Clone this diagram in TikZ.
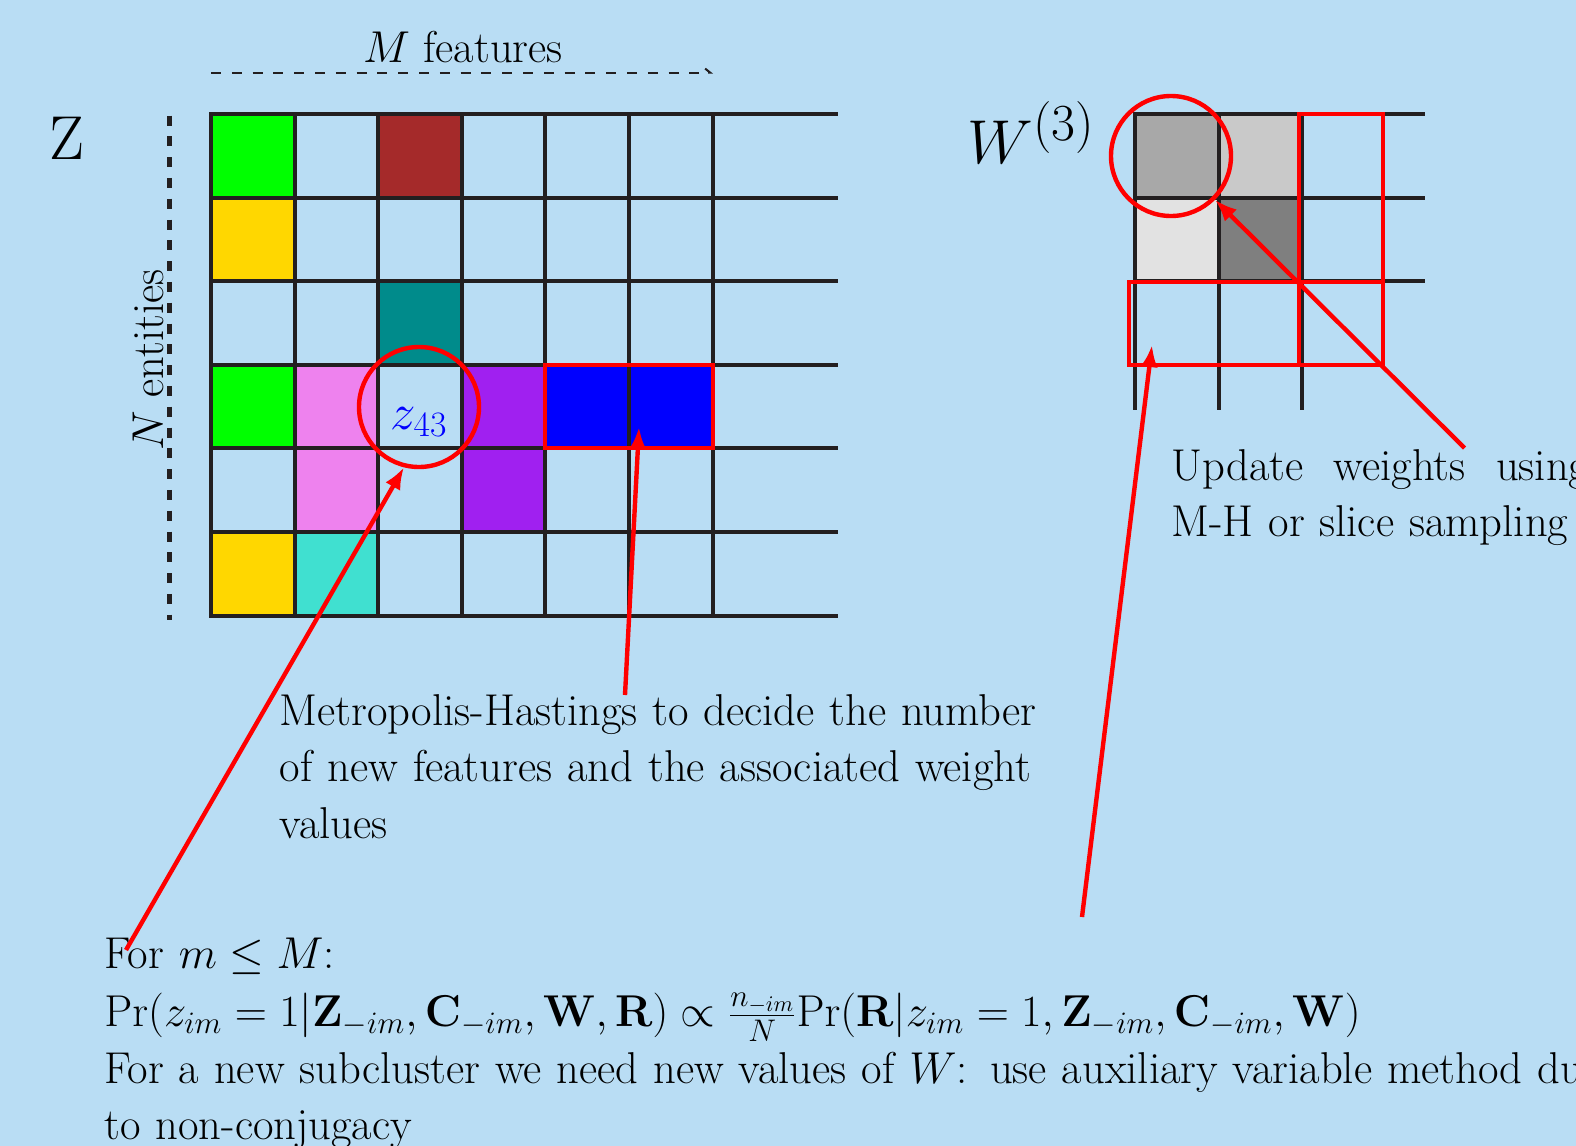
\documentclass[tikz,border=0pt]{standalone}
\usepackage{fix-cm}
\usepackage{amsmath}
\usepackage{xcolor}
\definecolor{slideBlue}{HTML}{B9DDF4}
\definecolor{gridInk}{HTML}{231F20}
\definecolor{markRed}{HTML}{FF0000}
\definecolor{featGreen}{HTML}{00FF00}
\definecolor{featGold}{HTML}{FFD700}
\definecolor{featBrown}{HTML}{A52A2A}
\definecolor{featTeal}{HTML}{008B8B}
\definecolor{featViolet}{HTML}{EE82EE}
\definecolor{featPurple}{HTML}{A020F0}
\definecolor{featTurquoise}{HTML}{40E0D0}
\definecolor{featBlue}{HTML}{0000FF}
\definecolor{weightDark}{HTML}{7F7F7F}
\definecolor{weightMid}{HTML}{A8A8A8}
\definecolor{weightLight}{HTML}{C9C9C9}
\definecolor{weightPale}{HTML}{E2E2E2}
\usepackage{tikz}
\usetikzlibrary{
    arrows.meta,
    positioning,
    calc
}
\tikzset{
    % Base style for all slide text
    slide text/.style={
        font=\fontsize{22.3}{28.25}\selectfont,
        align=left,
        inner sep=0pt,
        text=black,
    },
    % Matrix names Z and W
    big label/.style={
        font=\fontsize{31}{37}\selectfont,
        inner sep=0pt,
    },
    % Black matrix grid
    grid line/.style={
        draw=gridInk,
        line width=2pt,
    },
    % Dashed guides beside the matrix
    dashed guide/.style={
        draw=gridInk,
        line width=1pt,
        dash pattern=on 5pt off 5.4pt,
    },
    % Red highlight boxes
    red box/.style={
        draw=markRed,
        line width=2pt,
    },
    % Red ring round one entry
    red ring/.style={
        circle,
        draw=markRed,
        line width=2.2pt,
        minimum size=60pt,
        inner sep=0pt,
    },
    % Red pointer arrow
    arrow/.style={
        -{Latex[length=11pt, width=8.5pt]},
        draw=markRed,
        line width=2.2pt,
    },
}

\begin{document}
\begin{tikzpicture}[x=0.5pt, y=-0.5pt]
    \fill[slideBlue] (0,0) rectangle (1576,1146);
    \useasboundingbox (0,0) rectangle (1576,1146);

    % Z matrix
    \foreach \c/\r/\col in {1/1/featGreen, 3/1/featBrown, 1/2/featGold, 3/3/featTeal,
        1/4/featGreen, 2/4/featViolet, 4/4/featPurple, 5/4/featBlue, 6/4/featBlue,
        2/5/featViolet, 4/5/featPurple, 1/6/featGold, 2/6/featTurquoise}
        \fill[\col] ({211+(\c-1)*83.6},{114+(\r-1)*83.6}) rectangle ++(83.6,83.6);
    \foreach \k in {0,...,6} {
        \draw[grid line] ({211+\k*83.6},112) -- ({211+\k*83.6},{116+6*83.6});
        \draw[grid line] (209,{114+\k*83.6}) -- (838,{114+\k*83.6});
    }
    \draw[red box] (545.4,364.8) rectangle (712.6,448.4);
    \node (zring) [red ring] at (419,407) {};
    \node (zentry) [slide text, font=\fontsize{25.5}{30}\selectfont, text=featBlue, anchor=base] at (419,429) {$z_{43}$};

    \node (zname) [big label, anchor=base] at (67,159) {Z};
    \coordinate (featStart) at (211,72.6);
    \coordinate (featEnd) at (713,72.6);
    \draw[dashed guide, -{Straight Barb[left, length=2.5pt, width=4pt]}] (featStart) -- (featEnd);
    \node (features) [slide text, anchor=base] at (463,62) {$M$ features};
    \coordinate (entTop) at (169,115.5);
    \coordinate (entBottom) at (169,620);
    \draw[dashed guide, line width=2.5pt] (entTop) -- (entBottom);
    \node (entities) [slide text, rotate=90, anchor=base] at (163,360) {$N$ entities};

    % W matrix
    \fill[weightMid] (1135,114) rectangle (1218.5,197.5);
    \fill[weightLight] (1218.5,114) rectangle (1302,197.5);
    \fill[weightPale] (1135,197.5) rectangle (1218.5,281);
    \fill[weightDark] (1218.5,197.5) rectangle (1302,281);
    \foreach \k in {0,1,2} {
        \draw[grid line] ({1135+\k*83.5},112) -- ({1135+\k*83.5},410);
        \draw[grid line] (1133,{114+\k*83.5}) -- (1425,{114+\k*83.5});
    }
    \draw[red box] (1299,114) rectangle (1383,365);
    \draw[red box] (1129,282) rectangle (1383,365);
    \node (wring) [red ring] at (1171,156) {};
    \node (wname) [big label, anchor=base west] at (967,163)
        {$W^{\mbox{\fontsize{26}{26}\selectfont(3)}}$};

    % explanations
    \node (metro) [slide text, text width=400pt, anchor=base west] at (279.5,725)
        {Metropolis-Hastings to decide the number\\of new features and the associated weight\\values};
    \node (update) [slide text, text width=209pt, anchor=base west] at (1171,480)
        {Update\hfill weights\hfill using\\M-H or slice sampling};
    \node (sampler) [slide text, text width=900pt, anchor=base west] at (104,968)
        {For $m \leq M$:\\[1pt]
         $\mathrm{Pr}(z_{im}=1|\mathbf{Z}_{-im},\mathbf{C}_{-im},\mathbf{W},\mathbf{R}) \propto \frac{n_{-im}}{N}\mathrm{Pr}(\mathbf{R}|z_{im}=1,\mathbf{Z}_{-im},\mathbf{C}_{-im},\mathbf{W})$\\
         For a new subcluster we need new values of $W$: use auxiliary variable method due\\
         to non-conjugacy};

    % pointers
    \coordinate (forTail) at (126,950);
    \coordinate (metroTail) at (625,695);
    \coordinate (newTip) at (639,427);
    \coordinate (auxTail) at (1082,917);
    \coordinate (auxTip) at (1152,345);
    \coordinate (updateTail) at (1464.5,448);
    \draw [arrow] (forTail) -- (zring.-104);
    \draw [arrow] (metroTail) -- (newTip);
    \draw [arrow] (auxTail) -- (auxTip);
    \draw [arrow] (updateTail) -- (wring);
\end{tikzpicture}
\end{document}
